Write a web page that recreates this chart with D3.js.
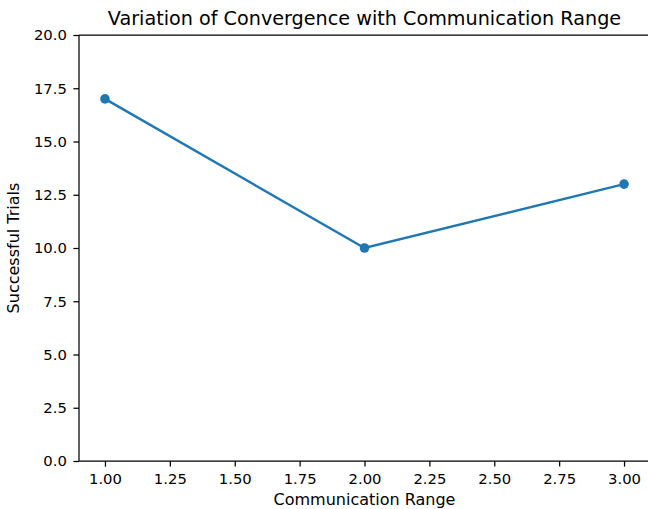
<!DOCTYPE html>
<html>
<head>
<meta charset="utf-8">
<script src="https://cdn.jsdelivr.net/npm/d3@7"></script>
<style>
  body { margin: 0; background: #fff; }
  svg { display: block; font-family: "DejaVu Sans", sans-serif; }
  .axis path, .axis line { stroke: #000; stroke-width: 1.25; }
  .axis text { fill: #000; font-size: 14.8px; font-family: "DejaVu Sans", sans-serif; }
</style>
</head>
<body>
<div id="chart"></div>
<script>
// data
var ranges = [1, 2, 3];
var trials = [17, 10, 13];
var xTicks = [1.0, 1.25, 1.5, 1.75, 2.0, 2.25, 2.5, 2.75, 3.0];
var yTicks = [0, 2.5, 5, 7.5, 10, 12.5, 15, 17.5, 20];

var width = 648, height = 509;
var margin = {top: 35, right: -2, bottom: 48, left: 79};

var svg = d3.select("#chart")
  .append("svg")
  .attr("width", width)
  .attr("height", height);

var x = d3.scaleLinear()
  .domain([0.9, 3.1])
  .range([margin.left, width - margin.right]);

var y = d3.scaleLinear()
  .domain([0, 20])
  .range([height - margin.bottom, margin.top]);

// x axis
var gx = svg.append("g")
  .attr("class", "axis")
  .attr("transform", "translate(0," + y(0) + ")")
  .call(d3.axisBottom(x).tickValues(xTicks).tickFormat(d3.format(".2f")).tickSize(5.6).tickPadding(7));
gx.select(".domain").attr("d", "M" + x(0.9) + ",0H" + x(3.1));

// y axis
var gy = svg.append("g")
  .attr("class", "axis")
  .attr("transform", "translate(" + x(0.9) + ",0)")
  .call(d3.axisLeft(y).tickValues(yTicks).tickFormat(d3.format(".1f")).tickSize(5.6).tickPadding(6.5));
gy.select(".domain").attr("d", "M0," + y(0) + "V" + y(20));

// top and right spines
svg.append("line")
  .attr("x1", x(0.9)).attr("x2", x(3.1))
  .attr("y1", y(20)).attr("y2", y(20))
  .attr("stroke", "#000").attr("stroke-width", 1.25);
svg.append("line")
  .attr("x1", x(3.1)).attr("x2", x(3.1))
  .attr("y1", y(0)).attr("y2", y(20))
  .attr("stroke", "#000").attr("stroke-width", 1.25);

var pts = ranges.map(function(d, i){ return {x: d, y: trials[i]}; });

var line = d3.line()
  .x(function(d){ return x(d.x); })
  .y(function(d){ return y(d.y); });

svg.append("path")
  .datum(pts)
  .attr("d", line)
  .attr("fill", "none")
  .attr("stroke", "#1f77b4")
  .attr("stroke-width", 2.4);

svg.selectAll("circle.pt")
  .data(pts)
  .enter()
  .append("circle")
  .attr("class", "pt")
  .attr("cx", function(d){ return x(d.x); })
  .attr("cy", function(d){ return y(d.y); })
  .attr("r", 4.8)
  .attr("fill", "#1f77b4");

// title and labels
svg.append("text")
  .attr("x", (x(0.9) + x(3.1)) / 2)
  .attr("y", 25)
  .attr("text-anchor", "middle")
  .attr("font-size", "19.2px")
  .text("Variation of Convergence with Communication Range");

svg.append("text")
  .attr("x", (x(0.9) + x(3.1)) / 2)
  .attr("y", 505)
  .attr("text-anchor", "middle")
  .attr("font-size", "16px")
  .text("Communication Range");

svg.append("text")
  .attr("transform", "translate(19," + y(10) + ") rotate(-90)")
  .attr("text-anchor", "middle")
  .attr("font-size", "16px")
  .text("Successful Trials");
</script>
</body>
</html>
